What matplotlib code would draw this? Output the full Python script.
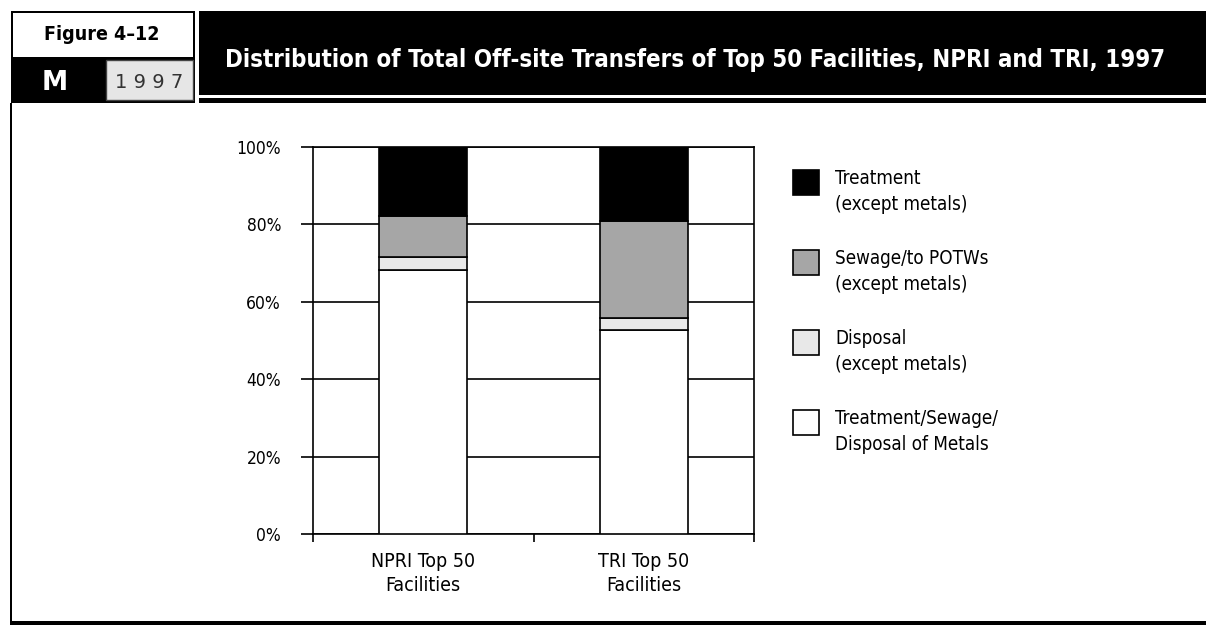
import numpy as np
import matplotlib
matplotlib.use('Agg')
import matplotlib.pyplot as plt
from matplotlib.patches import Rectangle

plt.rcParams['font.family'] = ['DejaVu Sans']
plt.rcParams['font.stretch'] = 'condensed'

# data (percent of total off-site transfers)
categories = ['NPRI Top 50\nFacilities', 'TRI Top 50\nFacilities']
series_names = ['Treatment/Sewage/\nDisposal of Metals',
                'Disposal\n(except metals)',
                'Sewage/to POTWs\n(except metals)',
                'Treatment\n(except metals)']
metals = [68.2, 52.8]
disposal = [3.4, 2.9]
sewage = [10.5, 25.3]
treatment = [17.9, 19.0]
y_ticks = [0, 20, 40, 60, 80, 100]
y_labels = ['0%', '20%', '40%', '60%', '80%', '100%']

colors = ['white', '#e8e8e8', '#a6a6a6', 'black']

W, H = 1206, 625
fig = plt.figure(figsize=(W / 100, H / 100), dpi=100)


def box(x0, y0, x1, y1, **kw):
    # rectangle given in pixel coords (top-left origin)
    r = Rectangle((x0 / W, 1 - y1 / H), (x1 - x0) / W, (y1 - y0) / H,
                  transform=fig.transFigure, **kw)
    fig.add_artist(r)
    return r


def ftext(x, y, s, **kw):
    return fig.text(x / W, 1 - y / H, s, **kw)


# header
box(11, 11, 195, 103, facecolor='black', edgecolor='none')
box(13, 13, 193, 57, facecolor='white', edgecolor='none')
box(106, 60, 193, 100, facecolor='#e6e6e6', edgecolor='#444444', linewidth=1)
box(199, 11, W, 95, facecolor='black', edgecolor='none')
box(199, 98, W, 103, facecolor='black', edgecolor='none')
ftext(102, 34, 'Figure 4\u201312', ha='center', va='center',
      fontsize=14, fontweight='bold', color='black')
ftext(55, 83, 'M', ha='center', va='center', fontsize=19,
      fontweight='heavy', color='white', stretch='expanded')
ftext(149, 83, '1 9 9 7', ha='center', va='center', fontsize=14,
      color='#333333', stretch='normal')
ftext(695, 60, 'Distribution of Total Off-site Transfers of Top 50 Facilities, NPRI and TRI, 1997',
      ha='center', va='center', fontsize=17.2, fontweight='bold', color='white')

# content frame
box(10, 103, 12, H, facecolor='black', edgecolor='none')
box(10, 621, W, H, facecolor='black', edgecolor='none')

# chart
ax = fig.add_axes([313 / W, 1 - 534 / H, (754 - 313) / W, (534 - 147) / H])
x = np.arange(len(categories))
bottom = np.zeros(len(categories))
for vals, c in zip([metals, disposal, sewage, treatment], colors):
    ax.bar(x, vals, 0.4, bottom=bottom, color=c, edgecolor='black',
           linewidth=1.2, zorder=3)
    bottom += np.array(vals)

ax.set_xlim(-0.5, 1.5)
ax.set_ylim(0, 100)
ax.set_yticks(y_ticks)
ax.set_yticklabels(y_labels)
ax.yaxis.grid(True, color='black', linewidth=1.2, zorder=0)
ax.set_axisbelow(True)
ax.set_xticks(x)
ax.set_xticklabels(categories, fontsize=14, linespacing=1.35)
ax.set_xticks([-0.5, 0.5, 1.5], minor=True)
ax.tick_params(axis='x', which='major', length=0, pad=13)
ax.tick_params(axis='x', which='minor', length=6, width=1.2, direction='out')
ax.tick_params(axis='y', length=9, width=1.2, direction='out', pad=14, labelsize=12.5)
for s in ax.spines.values():
    s.set_color('black')
    s.set_linewidth(1.2)

# legend (top to bottom matches stack order)
for i, k in enumerate([3, 2, 1, 0]):
    top = 170 + 80 * i
    box(793, top, 819, top + 25, facecolor=colors[k], edgecolor='black', linewidth=1.2)
    ftext(835, top - 1, series_names[k], ha='left', va='top', fontsize=13.5,
          linespacing=1.45)

fig.savefig('out.png', dpi=100)
